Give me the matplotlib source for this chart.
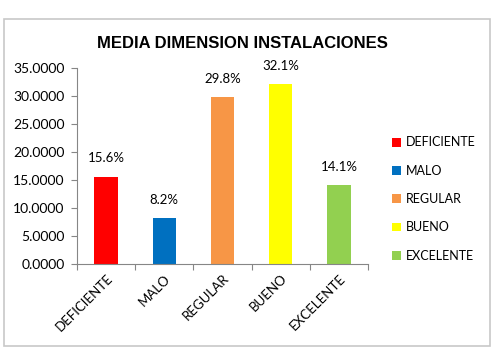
import matplotlib
matplotlib.use("Agg")
import matplotlib.pyplot as plt
from matplotlib.patches import Rectangle, Patch
from matplotlib.ticker import FormatStrFormatter

categories = ["DEFICIENTE", "MALO", "REGULAR", "BUENO", "EXCELENTE"]
values = [15.6, 8.2, 29.8, 32.1, 14.1]
labels = ["15.6%", "8.2%", "29.8%", "32.1%", "14.1%"]
colors = ["#ff0000", "#0070c0", "#f79646", "#ffff00", "#92d050"]
yticks = [0, 5, 10, 15, 20, 25, 30, 35]

W, H = 497, 357
fig = plt.figure(figsize=(W / 100, H / 100), dpi=100)
fig.patch.set_facecolor("white")
fig.patches.append(Rectangle((4 / W, 1 - 346 / H), 486 / W, 327 / H,
                             transform=fig.transFigure, fill=False,
                             edgecolor="#c8c8c8", linewidth=1.2))

ax = fig.add_axes([77 / W, 1 - 264 / H, 291 / W, 196 / H])
x = list(range(len(categories)))
ax.bar(x, values, width=0.4, color=colors)
ax.set_xlim(-0.5, len(categories) - 0.5)
ax.set_ylim(0, 35)
ax.set_yticks(yticks)
ax.yaxis.set_major_formatter(FormatStrFormatter("%.4f"))
fnt = "Lato"
for lab in ax.get_yticklabels():
    lab.set_fontfamily(fnt)
ax.tick_params(axis="y", labelsize=10, length=4, color="#868686", pad=5)
ax.set_xticks([i - 0.5 for i in range(len(categories) + 1)], minor=False)
ax.set_xticklabels([])
ax.set_xticks(x, minor=True)
ax.set_xticklabels(categories, minor=True, rotation=45, ha="right",
                   rotation_mode="anchor", fontsize=9.5, fontfamily=fnt)
ax.tick_params(axis="x", which="major", length=4, color="#868686", direction="out")
ax.tick_params(axis="x", which="minor", length=0, pad=6)
for s in ["top", "right"]:
    ax.spines[s].set_visible(False)
for s in ["left", "bottom"]:
    ax.spines[s].set_color("#868686")
for xi, v, t in zip(x, values, labels):
    ax.text(xi, v + 2.2, t, ha="center", va="bottom", fontsize=9.5, fontfamily=fnt)

fig.text(242 / W, 1 - 43 / H, "MEDIA DIMENSION INSTALACIONES", ha="center",
         va="center", fontsize=12, fontweight="bold", fontfamily="Liberation Sans")

handles = [Patch(facecolor=c, edgecolor="none") for c in colors]
leg = fig.legend(handles, categories, loc="center left",
                 bbox_to_anchor=(381 / W, 1 - 199 / H), frameon=False,
                 prop={"family": fnt, "size": 9}, handlelength=0.7,
                 handleheight=0.7, handletextpad=0.4, labelspacing=1.3)

fig.savefig("out.png", dpi=100)
